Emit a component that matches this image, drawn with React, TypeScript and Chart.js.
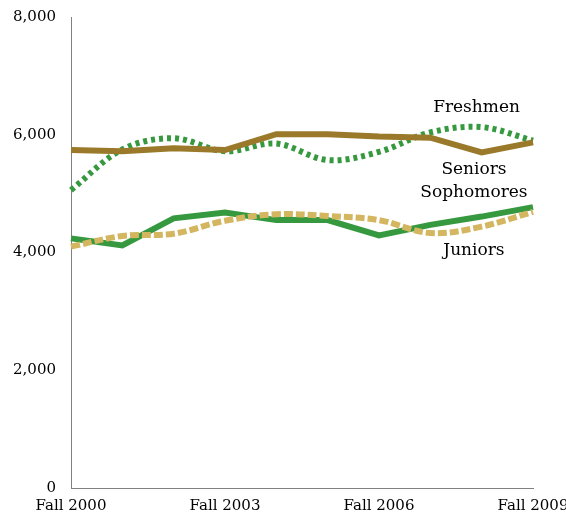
import React, { useEffect, useRef } from "react";
import { Chart, registerables } from "chart.js";

Chart.register(...registerables);

const categories = [
  "Fall 2000", "Fall 2001", "Fall 2002", "Fall 2003", "Fall 2004",
  "Fall 2005", "Fall 2006", "Fall 2007", "Fall 2008", "Fall 2009",
];
const freshmen = [5060, 5750, 5940, 5720, 5850, 5570, 5710, 6040, 6130, 5900];
const seniors = [5740, 5720, 5770, 5740, 6010, 6010, 5970, 5950, 5700, 5870];
const sophomores = [4240, 4120, 4580, 4680, 4550, 4550, 4290, 4470, 4610, 4770];
const juniors = [4100, 4280, 4320, 4540, 4650, 4620, 4550, 4330, 4440, 4690];

const seriesLabels = ["Freshmen", "Seniors", "Sophomores", "Juniors"];
const labelAnchorX = [7.9, 7.85, 7.85, 7.85];
const labelAnchorY = [6470, 5400, 5010, 4025];

const FONT = "'DejaVu Serif', 'Liberation Serif', serif";

const labelPlugin = {
  id: "seriesLabels",
  afterDatasetsDraw(chart: any) {
    const { ctx, scales } = chart;
    ctx.save();
    ctx.font = `17px ${FONT}`;
    ctx.fillStyle = "#000";
    ctx.textAlign = "center";
    ctx.textBaseline = "middle";
    seriesLabels.forEach((t, i) => {
      const x = scales.x.getPixelForValue(labelAnchorX[i]);
      const y = scales.y.getPixelForValue(labelAnchorY[i]);
      ctx.fillText(t, x, y);
    });
    ctx.restore();
  },
};

export default function App() {
  const ref = useRef<HTMLCanvasElement>(null);
  useEffect(() => {
    document.body.style.margin = "0";
    const chart = new Chart(ref.current!, {
      type: "line",
      data: {
        labels: categories,
        datasets: [
          {
            label: "Seniors",
            data: seniors,
            borderColor: "#9A7A2A",
            borderWidth: 6,
            pointRadius: 0,
            tension: 0,
          },
          {
            label: "Juniors",
            data: juniors,
            borderColor: "#D4B660",
            borderWidth: 6,
            borderDash: [9, 3],
            pointRadius: 0,
            tension: 0.35,
            borderCapStyle: "butt",
          },
          {
            label: "Sophomores",
            data: sophomores,
            borderColor: "#37993F",
            borderWidth: 6,
            pointRadius: 0,
            tension: 0,
          },
          {
            label: "Freshmen",
            data: freshmen,
            borderColor: "#37993F",
            borderWidth: 6,
            borderDash: [4, 4],
            pointRadius: 0,
            tension: 0.35,
            borderCapStyle: "butt",
          },
        ],
      },
      options: {
        animation: false,
        responsive: false,
        maintainAspectRatio: false,
        layout: { padding: { top: 17, right: 33, left: 0, bottom: 0 } },
        plugins: { legend: { display: false }, tooltip: { enabled: false } },
        scales: {
          x: {
            type: "category",
            offset: false,
            grid: { display: false, drawTicks: false },
            border: { display: true, color: "#808080", width: 1 },
            ticks: {
              autoSkip: false,
              maxRotation: 0,
              padding: 9,
              color: "#000",
              font: { family: FONT, size: 15 },
              callback: (_v: any, i: number) => (i % 3 === 0 ? categories[i] : null),
            },
            afterFit: (s: any) => {
              s.height = 31;
              s.paddingLeft = 0;
              s.paddingRight = 0;
            },
          },
          y: {
            min: 0,
            max: 8000,
            grid: { display: false, drawTicks: false },
            border: { display: true, color: "#808080", width: 1 },
            ticks: {
              stepSize: 2000,
              padding: 15,
              color: "#000",
              font: { family: FONT, size: 15 },
              callback: (v: any) => Number(v).toLocaleString("en-US"),
            },
            afterFit: (s: any) => {
              s.width = 71;
              s.paddingTop = 0;
              s.paddingBottom = 0;
            },
          },
        },
      },
      plugins: [labelPlugin],
    });
    return () => chart.destroy();
  }, []);
  return (
    <div style={{ position: "fixed", left: 0, top: 0, width: 566, height: 519 }}>
      <canvas ref={ref} width={566} height={519} />
    </div>
  );
}
